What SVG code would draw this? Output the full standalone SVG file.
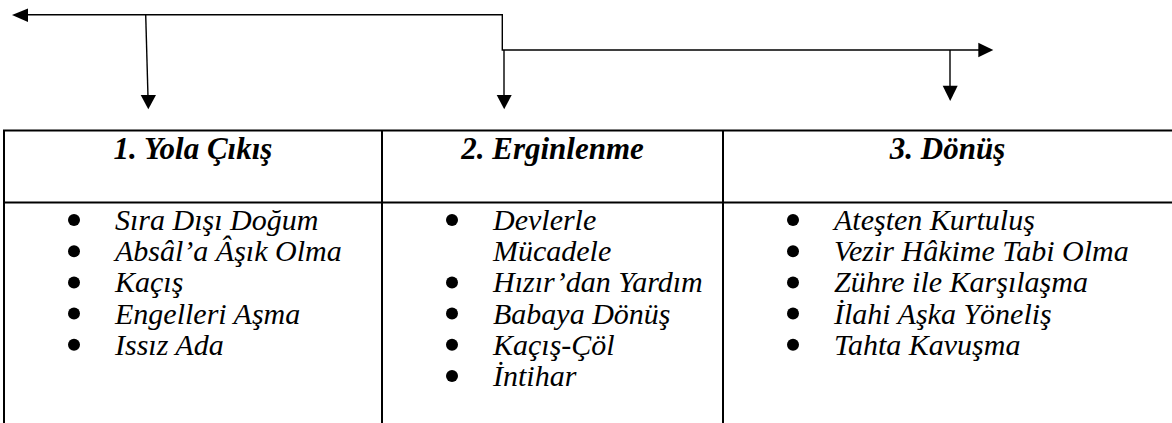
<svg xmlns="http://www.w3.org/2000/svg" width="1172" height="423" viewBox="0 0 1172 423">
<style>
.ln{stroke:#000;stroke-width:1.4;fill:none}
.ah{fill:#000;stroke:none}
.bd{stroke:#000;stroke-width:2;fill:none}
.hd{font-family:"Liberation Serif","Times New Roman",serif;font-style:italic;font-weight:bold;font-size:31px;fill:#000;text-anchor:middle}
.it{font-family:"Liberation Serif","Times New Roman",serif;font-style:italic;font-size:30px;fill:#000}
.bu{fill:#000}
</style>
<rect width="1172" height="423" fill="#fff"/>
<g id="connectors">
<polyline class="ln" points="26,14.7 502.3,14.7 502.3,50 980,50"/>
<line class="ln" x1="145.7" y1="14.7" x2="148" y2="97"/>
<line class="ln" x1="504" y1="50" x2="504" y2="97"/>
<line class="ln" x1="950" y1="50" x2="950" y2="88"/>
<polygon class="ah" points="12,15 28,8.5 28,22"/>
<polygon class="ah" points="993.3,50 978.3,42.7 978.3,57.3"/>
<polygon class="ah" points="148.3,109.3 140.7,95 156,95"/>
<polygon class="ah" points="504.2,109.3 496.7,95 511.7,95"/>
<polygon class="ah" points="950.2,101 942.7,85.7 957.7,85.7"/>
</g>
<g id="table">
<path class="bd" d="M4,423 V130.5 H1173 M4,202.5 H1173 M382,130.5 V423 M723,130.5 V423"/>
</g>
<g id="stage1">
<text class="hd" x="193" y="159">1. Yola Çıkış</text>
<circle class="bu" cx="74" cy="220" r="6"/>
<text class="it" x="115" y="230">Sıra Dışı Doğum</text>
<circle class="bu" cx="74" cy="251.2" r="6"/>
<text class="it" x="115" y="261.2">Absâl’a Âşık Olma</text>
<circle class="bu" cx="74" cy="282.4" r="6"/>
<text class="it" x="115" y="292.4">Kaçış</text>
<circle class="bu" cx="74" cy="313.6" r="6"/>
<text class="it" x="115" y="323.6">Engelleri Aşma</text>
<circle class="bu" cx="74" cy="344.8" r="6"/>
<text class="it" x="115" y="354.8">Issız Ada</text>
</g>
<g id="stage2">
<text class="hd" x="552.5" y="159">2. Erginlenme</text>
<circle class="bu" cx="452" cy="220" r="6"/>
<text class="it" x="493" y="230">Devlerle</text>
<text class="it" x="493" y="261.2">Mücadele</text>
<circle class="bu" cx="452" cy="282.4" r="6"/>
<text class="it" x="493" y="292.4">Hızır’dan Yardım</text>
<circle class="bu" cx="452" cy="313.6" r="6"/>
<text class="it" x="493" y="323.6">Babaya Dönüş</text>
<circle class="bu" cx="452" cy="344.8" r="6"/>
<text class="it" x="493" y="354.8">Kaçış-Çöl</text>
<circle class="bu" cx="452" cy="376" r="6"/>
<text class="it" x="493" y="386">İntihar</text>
</g>
<g id="stage3">
<text class="hd" x="947.5" y="159">3. Dönüş</text>
<circle class="bu" cx="793" cy="220" r="6"/>
<text class="it" x="834" y="230">Ateşten Kurtuluş</text>
<circle class="bu" cx="793" cy="251.2" r="6"/>
<text class="it" x="834" y="261.2">Vezir Hâkime Tabi Olma</text>
<circle class="bu" cx="793" cy="282.4" r="6"/>
<text class="it" x="834" y="292.4">Zühre ile Karşılaşma</text>
<circle class="bu" cx="793" cy="313.6" r="6"/>
<text class="it" x="834" y="323.6">İlahi Aşka Yöneliş</text>
<circle class="bu" cx="793" cy="344.8" r="6"/>
<text class="it" x="834" y="354.8">Tahta Kavuşma</text>
</g>
</svg>
